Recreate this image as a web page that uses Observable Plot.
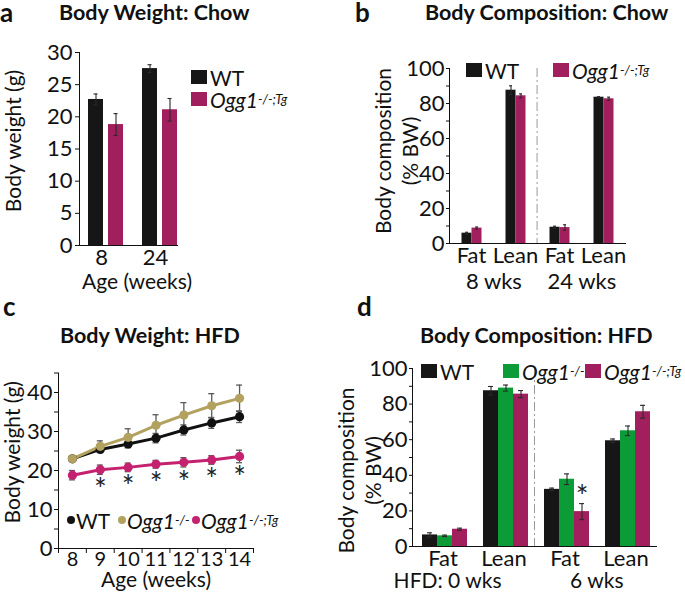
<!DOCTYPE html>
<html>
<head>
<meta charset="utf-8">
<script src="https://cdn.jsdelivr.net/npm/d3@7"></script>
<script src="https://cdn.jsdelivr.net/npm/@observablehq/plot@0.6"></script>
<style>
  body { margin: 0; background: #fff; font-family: Lato, "Open Sans", sans-serif; color: #111; }
  #wrap { position: relative; width: 685px; height: 593px; overflow: hidden; background: #fff; }
  .panel { position: absolute; }
  .panel svg { overflow: visible; }
  .title { position: absolute; font-weight: bold; font-size: 21.5px; line-height: 1; white-space: nowrap; }
  .letter { position: absolute; font-weight: bold; font-size: 26px; line-height: 20px; }
  .leg { position: absolute; display: flex; align-items: center; font-size: 21px; line-height: 1; white-space: nowrap; height: 16px; }
  .sw { display: inline-block; width: 16px; height: 14px; margin-right: 3px; }
  .dot { display: inline-block; width: 8px; height: 8px; border-radius: 50%; margin-right: 1px; }
  .leg i { font-style: italic; }
  .leg sup { font-size: 13px; vertical-align: 7px; font-style: italic; }
</style>
</head>
<body>
<div id="wrap"></div>
<script>
// ---------------- data ----------------
// a: body weight on chow
const chowAges = ["8", "24"];
const chowWT = [22.7, 27.5];
const chowWTErr = [0.85, 0.6];
const chowTg = [18.8, 21.1];
const chowTgErr = [1.7, 1.75];
const weightTicksA = [0, 5, 10, 15, 20, 25, 30];

// b: body composition on chow
const compGroupsB = ["8|Fat", "8|Lean", "24|Fat", "24|Lean"];
const compWTB = [5.9, 87.6, 9.3, 83.6];
const compWTErrB = [0.5, 2.5, 0.6, 0.3];
const compTgB = [8.8, 84.4, 9.1, 82.7];
const compTgErrB = [0.6, 1.1, 1.6, 0.9];
const timeLabelsB = ["8 wks", "24 wks"];
const compTicks = [0, 10, 20, 30, 40, 50, 60, 70, 80, 90, 100];

// c: body weight on HFD
const hfdAges = [8, 9, 10, 11, 12, 13, 14];
const hfdWT = [23.0, 25.4, 26.8, 28.3, 30.4, 32.2, 33.8];
const hfdWTErr = [0.6, 0.8, 1.0, 1.2, 1.3, 1.4, 1.5];
const hfdKO = [23.0, 26.2, 28.5, 31.6, 34.2, 36.6, 38.5];
const hfdKOErr = [0.7, 1.4, 2.2, 2.7, 3.2, 3.1, 3.4];
const hfdTg = [18.8, 20.2, 20.8, 21.6, 22.1, 22.7, 23.6];
const hfdTgErr = [1.2, 1.2, 1.1, 1.0, 1.2, 1.1, 1.6];
const hfdSig = [9, 10, 11, 12, 13, 14];
const weightTicksC = [0, 5, 10, 15, 20, 25, 30, 35, 40, 45];
const ageEdgesC = [7.5, 8.5, 9.5, 10.5, 11.5, 12.5, 13.5, 14.5];

// d: body composition on HFD
const compGroupsD = ["0|Fat", "0|Lean", "6|Fat", "6|Lean"];
const compWTD = [6.5, 87.5, 32.1, 59.4];
const compWTErrD = [1.2, 2.4, 0.7, 1.0];
const compKOD = [6.0, 89.0, 37.8, 65.0];
const compKOErrD = [0.4, 1.7, 3.0, 2.7];
const compTgD = [9.7, 85.6, 19.6, 75.7];
const compTgErrD = [0.6, 2.0, 4.5, 3.6];
const timeLabelsD = ["HFD: 0 wks", "6 wks"];
const sigGroupD = "6|Fat";

const genotypes = ["WT", "KO", "Tg"];
const barColors = ["#161616", "#0b9c37", "#a21f5e"];
const lineColors = ["#111111", "#b3a15f", "#c4216f"];

// ---------------- helpers ----------------
const FONT = "Lato, 'Open Sans', sans-serif";
const wrap = document.getElementById("wrap");
function place(node, left, top) {
  const d = document.createElement("div");
  d.className = "panel";
  d.style.left = left + "px";
  d.style.top = top + "px";
  d.appendChild(node);
  wrap.appendChild(d);
}
function html(cls, left, top, inner) {
  const d = document.createElement("div");
  d.className = cls;
  d.style.left = left + "px";
  d.style.top = top + "px";
  d.innerHTML = inner;
  wrap.appendChild(d);
}
const style = {fontFamily: FONT, fontSize: "22px", color: "#111", background: "transparent", overflow: "visible"};
function errBars(rows, opts, inset, stroke = "#2a2a2a") {
  return [
    Plot.ruleX(rows, {...opts, y1: d => d.mean - d.err, y2: d => d.mean + d.err, stroke, strokeWidth: 1.1}),
    Plot.tickY(rows, {...opts, y: d => d.mean - d.err, stroke, strokeWidth: 1.1, insetLeft: inset, insetRight: inset}),
    Plot.tickY(rows, {...opts, y: d => d.mean + d.err, stroke, strokeWidth: 1.1, insetLeft: inset, insetRight: inset})
  ];
}
const yLabel = (text, dx, dy, extra = {}) =>
  Plot.text([text], {text: d => d, frameAnchor: "left", textAnchor: "middle", lineAnchor: "middle", rotate: -90, dx, dy, fontSize: 21, ...extra});
const xLabel = (text, dx, dy, extra = {}) =>
  Plot.text([text], {text: d => d, frameAnchor: "bottom", textAnchor: "middle", lineAnchor: "middle", dx, dy, fontSize: 21, ...extra});

// ---------------- panel a ----------------
const rowsA = chowAges.flatMap((age, i) => [
  {grp: age, geno: "WT", mean: chowWT[i], err: chowWTErr[i]},
  {grp: age, geno: "Tg", mean: chowTg[i], err: chowTgErr[i]}
]);
const plotA = Plot.plot({
  width: 340, height: 290,
  marginLeft: 78, marginRight: 162, marginTop: 52, marginBottom: 45,
  style,
  fx: {domain: chowAges, paddingInner: 0.1818, paddingOuter: 0},
  x: {domain: ["WT", "Tg"], paddingInner: 0.244, paddingOuter: 0.22, align: 1, axis: null},
  y: {domain: [0, 30]},
  color: {domain: genotypes, range: barColors},
  marks: [
    Plot.barY(rowsA, {fx: "grp", x: "geno", y: "mean", fill: "geno"}),
    ...errBars(rowsA, {fx: "grp", x: "geno"}, 5.5),
    Plot.axisY({ticks: weightTicksA, tickSize: 4, tickPadding: 3, label: null}),
    Plot.axisFx({anchor: "bottom", tickSize: 0, tickPadding: 4, label: null}),
    Plot.frame({anchor: "left", facet: "super"}),
    Plot.frame({anchor: "bottom", facet: "super"}),
    yLabel("Body weight (g)", -65, -8, {facet: "super"}),
    xLabel("Age (weeks)", 8.5, 36.5, {facet: "super"})
  ]
});
place(plotA, 0, 0);

// ---------------- panel b ----------------
const rowsB = compGroupsB.flatMap((grp, i) => [
  {grp, geno: "WT", mean: compWTB[i], err: compWTErrB[i]},
  {grp, geno: "Tg", mean: compTgB[i], err: compTgErrB[i]}
]);
const bwB = (627 - 447.5) / compGroupsB.length;
const plotB = Plot.plot({
  width: 345, height: 290,
  marginLeft: 107.5, marginRight: 58, marginTop: 68, marginBottom: 47,
  style,
  fx: {domain: compGroupsB, paddingInner: 0, paddingOuter: 0},
  x: {domain: ["WT", "Tg"], paddingInner: 0, paddingOuter: 1.03, axis: null},
  y: {domain: [0, 100]},
  color: {domain: genotypes, range: barColors},
  marks: [
    Plot.ruleX([compGroupsB[2]], {fx: d => d, x: null, dx: -bwB / 2, stroke: "#9a9a9a", strokeWidth: 1, strokeDasharray: "9,3,2,3"}),
    Plot.barY(rowsB, {fx: "grp", x: "geno", y: "mean", fill: "geno"}),
    ...errBars(rowsB, {fx: "grp", x: "geno"}, 3.5),
    Plot.axisY({ticks: compTicks, tickFormat: d => d % 20 ? "" : d, tickSize: 3, tickPadding: 2, label: null}),
    Plot.axisFx({anchor: "bottom", tickSize: 0, tickPadding: 4, tickFormat: d => d.split("|")[1], label: null}),
    Plot.text(timeLabelsB, {fx: (d, i) => compGroupsB[i * 2], text: d => d, frameAnchor: "bottom", lineAnchor: "middle", dx: bwB / 2, dy: 38, fontSize: 22}),
    Plot.frame({anchor: "left", facet: "super"}),
    Plot.frame({anchor: "bottom", facet: "super"}),
    yLabel("Body composition\n(% BW)", -54, -5, {lineHeight: 1.3, facet: "super"})
  ]
});
place(plotB, 340, 0);

// ---------------- panel c ----------------
const rowsC = [
  ...hfdAges.map((age, i) => ({age, geno: "WT", mean: hfdWT[i], err: hfdWTErr[i]})),
  ...hfdAges.map((age, i) => ({age, geno: "KO", mean: hfdKO[i], err: hfdKOErr[i]})),
  ...hfdAges.map((age, i) => ({age, geno: "Tg", mean: hfdTg[i], err: hfdTgErr[i]}))
];
const plotC = Plot.plot({
  width: 340, height: 303,
  marginLeft: 58, marginRight: 87, marginTop: 82.5, marginBottom: 45,
  style,
  x: {domain: [7.5, 14.5]},
  y: {domain: [0, 45]},
  color: {domain: genotypes, range: lineColors},
  marks: [
    Plot.ruleX(rowsC, {x: "age", y1: d => d.mean - d.err, y2: d => d.mean + d.err, stroke: "#5a5a5a", strokeWidth: 1.3}),
    Plot.ruleY(rowsC, {x1: "age", x2: "age", y: d => d.mean + d.err, insetLeft: -3, insetRight: -3, stroke: "#5a5a5a", strokeWidth: 1.3}),
    Plot.ruleY(rowsC, {x1: "age", x2: "age", y: d => d.mean - d.err, insetLeft: -3, insetRight: -3, stroke: "#5a5a5a", strokeWidth: 1.3}),
    Plot.line(rowsC, {x: "age", y: "mean", z: "geno", stroke: "geno", strokeWidth: 3}),
    Plot.dot(rowsC, {x: "age", y: "mean", fill: "geno", r: 4.6}),
    Plot.text(hfdSig, {x: d => d, y: d => hfdTg[hfdAges.indexOf(d)] - hfdTgErr[hfdAges.indexOf(d)], text: () => "*", dy: 16, fontSize: 30, fill: "#222"}),
    Plot.axisY({ticks: weightTicksC, tickFormat: d => d % 10 ? "" : d, tickSize: 4, tickPadding: 2, label: null}),
    Plot.axisX({ticks: hfdAges, tickFormat: d => String(d), tickSize: 0, tickPadding: 3, fontSize: 20, label: null}),
    Plot.axisX({ticks: ageEdgesC, tickFormat: () => "", tickSize: 5, label: null}),
    Plot.frame({anchor: "left"}),
    Plot.frame({anchor: "bottom"}),
    yLabel("Body weight (g)", -45.5, -8.5),
    xLabel("Age (weeks)", 0, 32)
  ]
});
place(plotC, 0, 290);

// ---------------- panel d ----------------
const rowsD = compGroupsD.flatMap((grp, i) => [
  {grp, geno: "WT", mean: compWTD[i], err: compWTErrD[i]},
  {grp, geno: "KO", mean: compKOD[i], err: compKOErrD[i]},
  {grp, geno: "Tg", mean: compTgD[i], err: compTgErrD[i]}
]);
const stepD = 61;
const plotD = Plot.plot({
  width: 345, height: 303,
  marginLeft: 72, marginRight: 2, marginTop: 78, marginBottom: 47,
  style,
  fx: {domain: compGroupsD, paddingInner: 0, paddingOuter: 0.2213, align: 0},
  x: {domain: genotypes, paddingInner: 0, paddingOuter: 0.468, align: 0.62, axis: null},
  y: {domain: [0, 100]},
  color: {domain: genotypes, range: barColors},
  marks: [
    Plot.ruleX([compGroupsD[2]], {fx: d => d, x: null, dx: -stepD / 2, stroke: "#9a9a9a", strokeWidth: 1, strokeDasharray: "9,3,2,3"}),
    Plot.barY(rowsD, {fx: "grp", x: "geno", y: "mean", fill: "geno"}),
    ...errBars(rowsD, {fx: "grp", x: "geno"}, 5),
    Plot.text(rowsD.filter(d => d.grp === sigGroupD && d.geno === "Tg"), {fx: "grp", x: "geno", y: d => d.mean + d.err, text: () => "*", dy: -6, fontSize: 30, fill: "#222"}),
    Plot.axisY({ticks: compTicks, tickFormat: d => d % 20 ? "" : d, tickSize: 3, tickPadding: 2, label: null}),
    Plot.axisFx({anchor: "bottom", tickSize: 0, tickPadding: 4, tickFormat: d => d.split("|")[1], label: null}),
    Plot.text(timeLabelsD, {fx: (d, i) => compGroupsD[i * 2], text: d => d, frameAnchor: "bottom", textAnchor: "end", lineAnchor: "middle", dx: stepD / 2 + 28, dy: 35, fontSize: 21}),
    Plot.frame({anchor: "left", facet: "super"}),
    Plot.frame({anchor: "bottom", facet: "super"}),
    yLabel("Body composition\n(% BW)", -54, 13, {lineHeight: 1.3, facet: "super"})
  ]
});
place(plotD, 340, 290);

// ---------------- titles, letters, legends ----------------
html("letter", 0, 2, "a");
html("letter", 355, 2, "b");
html("letter", 3, 296, "c");
html("letter", 357, 296, "d");
html("title", 59, 2, "Body Weight: Chow");
html("title", 425, 2, "Body Composition: Chow");
html("title", 60, 325, "Body Weight: HFD");
html("title", 420, 325, "Body Composition: HFD");

const TG = "<i>Ogg1</i><sup>-/-;Tg</sup>";
const KOl = "<i>Ogg1</i><sup>-/-</sup>";
const sw = c => `<span class="sw" style="background:${c}"></span>`;
const dt = c => `<span class="dot" style="background:${c}"></span>`;
// a
html("leg", 191, 69, sw(barColors[0]) + "WT");
html("leg", 191, 91, sw(barColors[2]) + TG);
// b
html("leg", 466, 62, sw(barColors[0]) + "WT");
html("leg", 553, 62, sw(barColors[2]) + TG);
// c
html("leg", 67, 512, dt(lineColors[0]) + "WT");
html("leg", 118, 512, dt(lineColors[1]) + KOl);
html("leg", 192, 512, dt(lineColors[2]) + TG);
// d
html("leg", 421, 363, sw(barColors[0]) + "WT");
html("leg", 503, 363, sw(barColors[1]) + KOl);
html("leg", 585, 363, sw(barColors[2]) + TG);
</script>
</body>
</html>
